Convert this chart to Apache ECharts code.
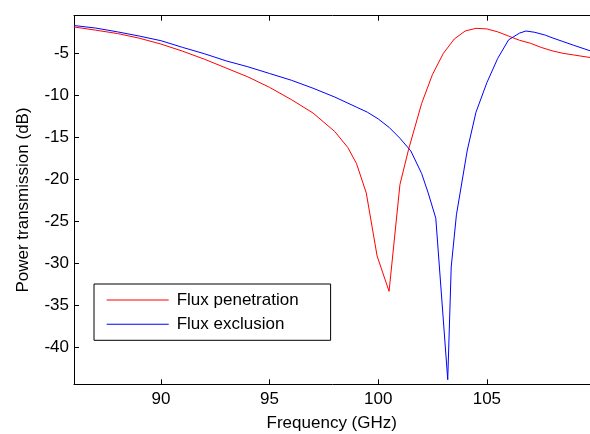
<!DOCTYPE html>
<html>
<head>
<meta charset="utf-8">
<script src="https://cdn.jsdelivr.net/npm/echarts@6/dist/echarts.min.js"></script>
<style>
html,body{margin:0;padding:0;background:#fff;}
#chart{width:590px;height:434px;}
</style>
</head>
<body>
<div id="chart"></div>
<script>
var penetrationFreq = [86.0, 87.0, 88.0, 89.0, 90.0, 91.0, 92.0, 93.0, 94.0, 95.0, 96.0, 97.0, 98.0, 98.6, 99.0, 99.45, 99.95, 100.5, 101.0, 101.4, 102.0, 102.5, 103.0, 103.5, 104.0, 104.5, 105.0, 105.5, 106.0, 106.5, 107.0, 107.5, 108.0, 108.5, 109.0, 109.75];
var penetrationDb = [-1.87, -2.25, -2.65, -3.2, -3.9, -4.75, -5.7, -6.75, -7.8, -9.05, -10.5, -12.1, -14.3, -16.2, -18.1, -21.6, -29.1, -33.3, -20.6, -16.4, -10.95, -7.5, -5.0, -3.3, -2.35, -2.03, -2.1, -2.45, -2.95, -3.45, -3.8, -4.3, -4.7, -5.0, -5.2, -5.5];
var exclusionFreq = [86.0, 87.0, 88.0, 89.0, 90.0, 91.0, 92.0, 93.0, 94.0, 95.0, 96.0, 97.0, 98.0, 99.0, 99.5, 100.0, 100.5, 101.0, 101.5, 102.0, 102.3, 102.65, 103.2, 103.36, 103.6, 104.1, 104.5, 105.0, 105.5, 106.0, 106.5, 106.8, 107.2, 107.7, 108.0, 108.5, 109.0, 109.75];
var exclusionDb = [-1.7, -2.0, -2.45, -2.95, -3.5, -4.3, -5.05, -5.9, -6.6, -7.4, -8.2, -9.15, -10.2, -11.4, -12.0, -12.8, -13.8, -15.1, -16.6, -19.3, -21.6, -24.6, -43.8, -30.4, -24.2, -16.5, -12.0, -8.5, -5.6, -3.4, -2.6, -2.35, -2.5, -2.85, -3.15, -3.6, -4.05, -4.7];
var seriesNames = ['Flux penetration', 'Flux exclusion'];
var xTicks = [90, 95, 100, 105];
var yTicks = [-40, -35, -30, -25, -20, -15, -10, -5];

function pairs(xs, ys) { return xs.map(function (x, i) { return [x, ys[i]]; }); }

var FONT = 'Liberation Sans, Arial, sans-serif';
var chart = echarts.init(document.getElementById('chart'), null, {renderer: 'canvas'});
var axisLineStyle = {color: '#000', width: 1};
chart.setOption({
  animation: false,
  backgroundColor: '#fff',
  grid: {left: 74, top: 15.7, height: 368.6, width: 521.5, containLabel: false, outerBoundsMode: 'none'},
  legend: {
    orient: 'vertical',
    left: 94, top: 284,
    data: seriesNames,
    itemWidth: 62, itemHeight: 12, itemGap: 4.3,
    padding: [6, 32, 6, 12.7],
    borderColor: '#000', borderWidth: 1,
    backgroundColor: '#fff',
    textStyle: {fontFamily: FONT, fontSize: 17, color: '#000', lineHeight: 20, padding: [0, 0, 0, 3]},
    icon: 'path://M0,0 L62,0 L62,1 L0,1 Z'
  },
  xAxis: [{
    type: 'value', min: 86, max: 110, position: 'bottom',
    name: 'Frequency (GHz)', nameLocation: 'middle', nameGap: 31,
    nameTextStyle: {fontFamily: FONT, fontSize: 17, color: '#000', padding: [0, 6, 0, 0]},
    axisLine: {show: true, lineStyle: axisLineStyle},
    axisTick: {show: true, inside: true, length: 5, customValues: xTicks, lineStyle: axisLineStyle},
    axisLabel: {show: true, customValues: xTicks, margin: 7, fontFamily: FONT, fontSize: 17, color: '#000'},
    splitLine: {show: false}
  }, {
    type: 'value', min: 86, max: 110, position: 'top',
    axisLine: {show: true, onZero: false, lineStyle: axisLineStyle},
    axisTick: {show: true, inside: true, length: 5, customValues: xTicks, lineStyle: axisLineStyle},
    axisLabel: {show: false},
    splitLine: {show: false}
  }],
  yAxis: [{
    type: 'value', min: -44.35, max: -0.53, position: 'left',
    name: 'Power transmission (dB)', nameLocation: 'middle', nameGap: 42, nameRotate: 90,
    nameTextStyle: {fontFamily: FONT, fontSize: 17, color: '#000'},
    axisLine: {show: true, onZero: false, lineStyle: axisLineStyle},
    axisTick: {show: true, inside: true, length: 5, customValues: yTicks, lineStyle: axisLineStyle},
    axisLabel: {show: true, customValues: yTicks, margin: 5, fontFamily: FONT, fontSize: 17, color: '#000'},
    splitLine: {show: false}
  }, {
    type: 'value', min: -44.35, max: -0.53, position: 'right',
    axisLine: {show: true, onZero: false, lineStyle: axisLineStyle},
    axisTick: {show: true, inside: true, length: 5, customValues: yTicks, lineStyle: axisLineStyle},
    axisLabel: {show: false},
    splitLine: {show: false}
  }],
  series: [{
    name: seriesNames[0], type: 'line', symbol: 'none', smooth: false,
    data: pairs(penetrationFreq, penetrationDb),
    lineStyle: {color: '#ff0000', width: 1}, itemStyle: {color: '#ff0000'}
  }, {
    name: seriesNames[1], type: 'line', symbol: 'none', smooth: false,
    data: pairs(exclusionFreq, exclusionDb),
    lineStyle: {color: '#0000ff', width: 1}, itemStyle: {color: '#0000ff'}
  }]
});
</script>
</body>
</html>
